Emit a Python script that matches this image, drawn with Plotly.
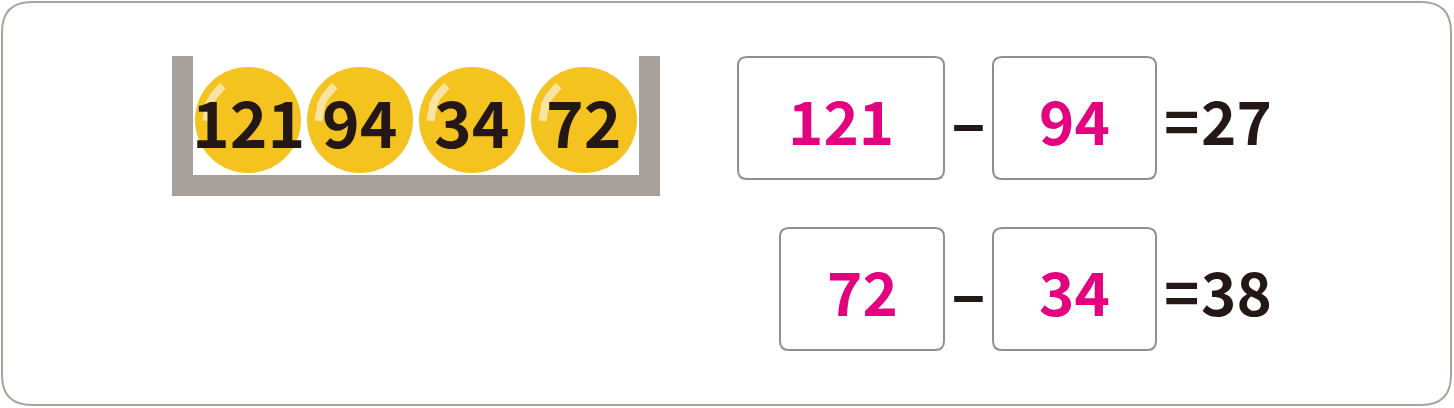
import plotly.graph_objects as go

# values shown in the picture
ball_values = [121, 94, 34, 72]
minuends = [121, 72]
subtrahends = [94, 34]
results = [27, 38]

W, H = 1454, 408
BLACK = "#231815"
PINK = "#e4007f"
GRAY = "#a7a09b"
YELLOW = "#f4c320"
FONT = "Noto Sans CJK KR, Noto Sans, sans-serif"


def rounded_rect(x0, y0, x1, y1, r):
    """SVG path of a rectangle with rounded corners (data coords, y down)."""
    return (f"M {x0 + r},{y0} L {x1 - r},{y0} Q {x1},{y0} {x1},{y0 + r} "
            f"L {x1},{y1 - r} Q {x1},{y1} {x1 - r},{y1} "
            f"L {x0 + r},{y1} Q {x0},{y1} {x0},{y1 - r} "
            f"L {x0},{y0 + r} Q {x0},{y0} {x0 + r},{y0} Z")


fig = go.Figure()
shapes = []
annotations = []

# outer frame
shapes.append(dict(type="path", path=rounded_rect(2, 2, W - 3, H - 3, 30),
                   line=dict(color="#aba39e", width=2), fillcolor="white", layer="below"))

# container (U shape)
for x0, y0, x1, y1 in [(172, 56, 193, 196), (172, 175, 660, 196), (639, 56, 660, 196)]:
    shapes.append(dict(type="rect", x0=x0, y0=y0, x1=x1, y1=y1, layer="below",
                       line=dict(width=0), fillcolor=GRAY))

# balls
ball_x0, ball_step, ball_y, ball_r = 248, 112, 120, 53
for i, v in enumerate(ball_values):
    cx = ball_x0 + i * ball_step
    shapes.append(dict(type="circle", x0=cx - ball_r, y0=ball_y - ball_r,
                       x1=cx + ball_r, y1=ball_y + ball_r, layer="below",
                       line=dict(width=0), fillcolor=YELLOW))
    # glossy highlight on the upper left
    hx = [cx - 42 * c for c in (0.60, 0.72, 0.83, 0.92, 0.97, 0.99)]
    hy = [ball_y - 42 * s for s in (0.82, 0.70, 0.56, 0.38, 0.18, -0.02)]
    fig.add_trace(go.Scatter(x=hx, y=hy, mode="lines", hoverinfo="skip",
                             line=dict(color="#fbe3a0", width=8),
                             showlegend=False))
    annotations.append(dict(x=cx, y=ball_y, text=str(v), showarrow=False,
                            xanchor="center", yanchor="middle",
                            font=dict(family=FONT, size=64, color=BLACK, weight="bold")))

# equations
row_y = [(57, 179), (228, 350)]
box_a = [(738, 944), (780, 944)]
box_b = (993, 1156)
for k in range(2):
    y0, y1 = row_y[k]
    cy = (y0 + y1) / 2
    for (x0, x1), val in [(box_a[k], minuends[k]), (box_b, subtrahends[k])]:
        shapes.append(dict(type="path", path=rounded_rect(x0, y0, x1, y1, 9),
                           line=dict(color="#8f8f8f", width=2), fillcolor="white"))
        annotations.append(dict(x=(x0 + x1) / 2, y=cy, text=str(val), showarrow=False,
                                xanchor="center", yanchor="middle",
                                font=dict(family=FONT, size=60, color=PINK, weight="bold")))
    annotations.append(dict(x=968, y=cy, text="–", showarrow=False,
                            xanchor="center", yanchor="middle",
                            font=dict(family=FONT, size=64, color=BLACK, weight="bold")))
    annotations.append(dict(x=1181, y=cy, text="=", showarrow=False,
                            xanchor="center", yanchor="middle",
                            font=dict(family=FONT, size=60, color=BLACK, weight="bold")))
    annotations.append(dict(x=1199, y=cy, text=str(results[k]), showarrow=False,
                            xanchor="left", yanchor="middle",
                            font=dict(family=FONT, size=60, color=BLACK, weight="bold")))

fig.update_layout(
    width=W, height=H,
    margin=dict(l=0, r=0, t=0, b=0),
    paper_bgcolor="white", plot_bgcolor="white",
    xaxis=dict(range=[0, W], visible=False, fixedrange=True),
    yaxis=dict(range=[H, 0], visible=False, fixedrange=True),
    shapes=shapes, annotations=annotations,
    showlegend=False,
)

# drop the page's default body margin so the figure sits at the window origin
fig.write_html("out.html", config=dict(displayModeBar=False),
               post_script="document.body.style.margin='0';")
